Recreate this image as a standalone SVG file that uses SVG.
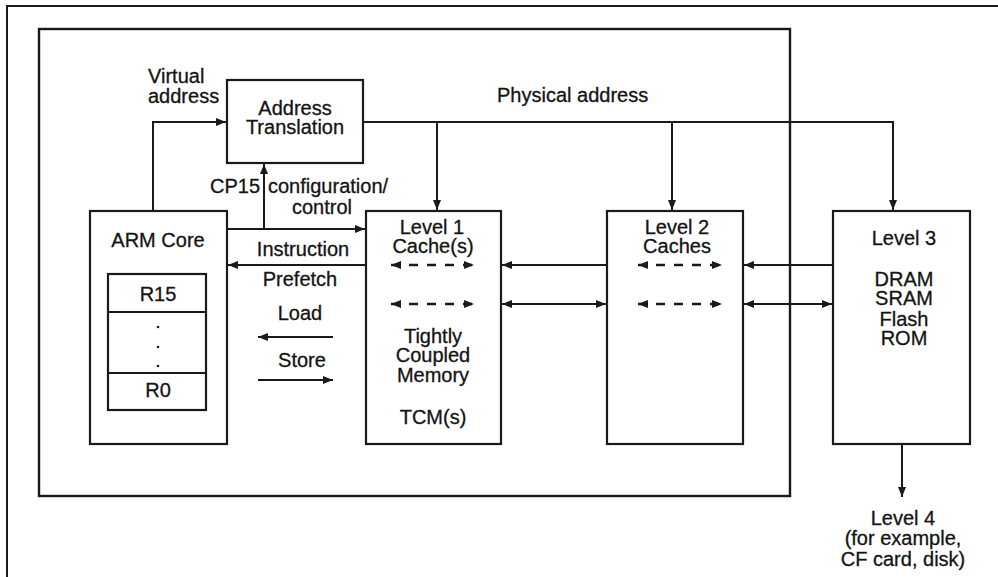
<svg xmlns="http://www.w3.org/2000/svg" width="998" height="577" viewBox="0 0 998 577">
<defs>
<marker id="ah" markerUnits="userSpaceOnUse" markerWidth="11" markerHeight="9" refX="10" refY="4.5" orient="auto-start-reverse">
<path d="M0,0.5 L10,4.5 L0,8.5 z" fill="#1a1a1a"/>
</marker>
</defs>
<style>
text{font-family:"Liberation Sans",Arial,sans-serif;font-size:20px;fill:#141414;stroke:#141414;stroke-width:0.3}
.m{text-anchor:middle}
.box{fill:none;stroke:#1a1a1a;stroke-width:2.2}
.ln{fill:none;stroke:#1a1a1a;stroke-width:2}
.ds{fill:none;stroke:#1a1a1a;stroke-width:2.5;stroke-dasharray:9 9}
</style>
<rect width="998" height="577" fill="#fff"/>
<path d="M7,577 V6 H998" class="ln"/>
<rect x="39" y="29" width="751" height="467" fill="none" stroke="#1a1a1a" stroke-width="2.4"/>

<g id="address-translation">
<rect x="227" y="80" width="136" height="83" class="box"/>
<text class="m"><tspan x="295" y="115">Address</tspan><tspan x="295" y="134">Translation</tspan></text>
</g>

<g id="arm-core">
<rect x="90" y="211" width="137" height="233" class="box"/>
<text x="158" y="247" class="m">ARM Core</text>
<rect x="108" y="274" width="98" height="136" class="box" stroke-width="2.5"/>
<path d="M108,312 H206 M108,373 H206" class="ln" stroke-width="2.5"/>
<text x="158" y="301" class="m">R15</text>
<circle cx="158" cy="327" r="1.3" fill="#1a1a1a"/>
<circle cx="158" cy="347" r="1.3" fill="#1a1a1a"/>
<circle cx="158" cy="366" r="1.3" fill="#1a1a1a"/>
<text x="158" y="397" class="m">R0</text>
</g>

<g id="level1">
<rect x="366" y="211" width="135" height="233" class="box"/>
<text class="m"><tspan x="432" y="234">Level 1</tspan><tspan x="433" y="253">Cache(s)</tspan></text>
<text class="m"><tspan x="433" y="343">Tightly</tspan><tspan x="433" y="362">Coupled</tspan><tspan x="433" y="382">Memory</tspan></text>
<text x="433" y="424" class="m">TCM(s)</text>
</g>

<g id="level2">
<rect x="607" y="211" width="136" height="233" class="box"/>
<text class="m"><tspan x="677" y="234">Level 2</tspan><tspan x="677" y="253">Caches</tspan></text>
</g>

<g id="level3">
<rect x="833" y="211" width="137" height="233" class="box"/>
<text x="904" y="245" class="m">Level 3</text>
<text class="m"><tspan x="904" y="286">DRAM</tspan><tspan x="904" y="305">SRAM</tspan><tspan x="904" y="326">Flash</tspan><tspan x="904" y="345">ROM</tspan></text>
</g>

<g id="connectors">
<path d="M153,211 V122 H226" class="ln" marker-end="url(#ah)"/>
<path d="M264,229 V164" class="ln" marker-end="url(#ah)"/>
<path d="M227,229 H365" class="ln" marker-end="url(#ah)"/>
<path d="M366,265 H228" class="ln" marker-end="url(#ah)"/>
<path d="M333,337 H258" class="ln" stroke-width="3" marker-end="url(#ah)"/>
<path d="M258,380 H333" class="ln" marker-end="url(#ah)"/>
<path d="M363,122 H893 V210" class="ln" marker-end="url(#ah)"/>
<path d="M437,122 V210" class="ln" marker-end="url(#ah)"/>
<path d="M672,122 V210" class="ln" marker-end="url(#ah)"/>
<path d="M607,265 H502" class="ln" marker-end="url(#ah)"/>
<path d="M502,304 H606" class="ln" marker-start="url(#ah)" marker-end="url(#ah)"/>
<path d="M833,265 H744" class="ln" marker-end="url(#ah)"/>
<path d="M744,304 H832" class="ln" marker-start="url(#ah)" marker-end="url(#ah)"/>
<path d="M902,444 V497" class="ln" marker-end="url(#ah)"/>
<path d="M391,265 H474" class="ds" marker-start="url(#ah)" marker-end="url(#ah)"/>
<path d="M391,304 H474" class="ds" marker-start="url(#ah)" marker-end="url(#ah)"/>
<path d="M638,265 H722" class="ds" marker-start="url(#ah)" marker-end="url(#ah)"/>
<path d="M638,304 H722" class="ds" marker-start="url(#ah)" marker-end="url(#ah)"/>
<text><tspan x="148" y="83">Virtual</tspan><tspan x="148" y="103">address</tspan></text>
<text x="497" y="102">Physical address</text>
<text><tspan x="210" y="193">CP15</tspan><tspan x="268" y="193">configuration/</tspan><tspan x="292" y="214">control</tspan></text>
<text x="303" y="256" class="m">Instruction</text>
<text x="300" y="286" class="m">Prefetch</text>
<text x="300" y="320" class="m">Load</text>
<text x="302" y="367" class="m">Store</text>
<text class="m"><tspan x="903" y="525">Level 4</tspan><tspan x="903" y="545">(for example,</tspan><tspan x="903" y="566">CF card, disk)</tspan></text>
</g>
</svg>
